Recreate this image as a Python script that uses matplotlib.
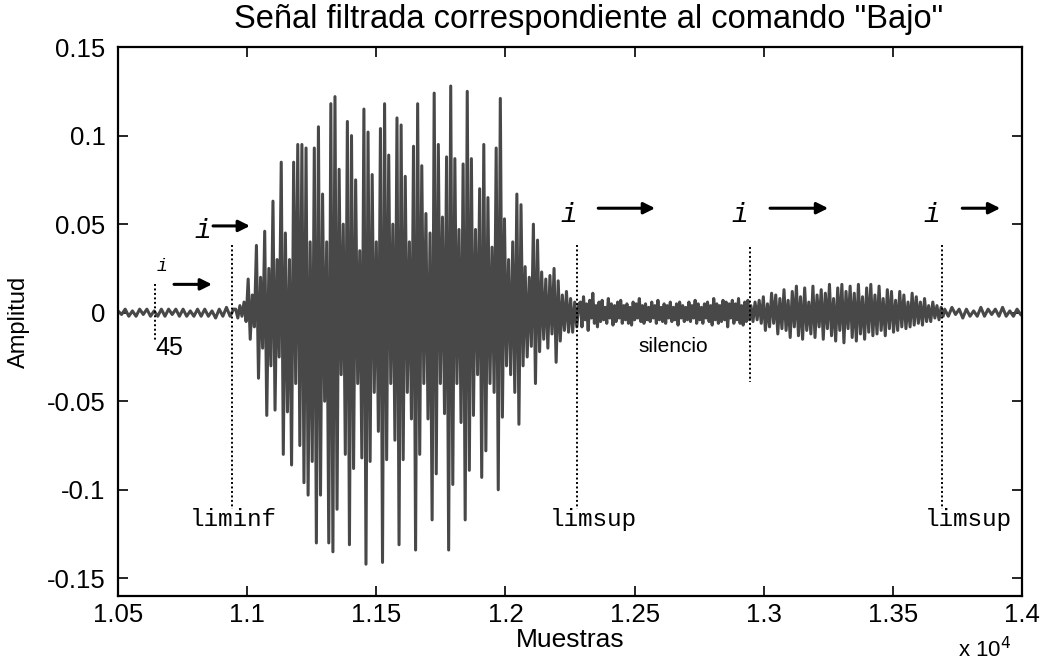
import numpy as np
import matplotlib
matplotlib.use("Agg")
import matplotlib.pyplot as plt

# Señal filtrada del comando "Bajo": tramos de extremos leídos a paso fijo de muestras
pre_inicio, pre_paso = 10500, 14
pre_vals = [0.001, -0.001, 0.002, -0.002, 0.001, -0.002, 0.002, -0.001, 0.002, -0.002,
            0.001, -0.002, 0.002, -0.002, 0.002, -0.001, 0.002, -0.002, 0.002, -0.002,
            0.001, -0.002, 0.002, -0.002, 0.002, -0.002, 0.001, -0.003, 0.002, -0.002,
            0.003, -0.002, 0.002]

voz_inicio, voz_paso = 10956, 8
voz_vals = [0.002, -0.003, 0.004, -0.002, 0.006, -0.005, 0.019, -0.015, 0.010, -0.008,
            0.038, -0.037, 0.020, -0.020, 0.046, -0.058, 0.025, -0.030, 0.063, -0.055,
            0.030, -0.025, 0.085, -0.080, 0.045, -0.056, 0.030, -0.086, 0.085, -0.040,
            0.095, -0.075, 0.095, -0.096, 0.093, -0.103, 0.040, -0.084, 0.093, -0.130,
            0.105, -0.103, 0.067, -0.050, 0.040, -0.130, 0.118, -0.135, 0.122, -0.111,
            0.081, -0.035, 0.050, -0.080, 0.108, -0.131, 0.100, -0.088, 0.075, -0.040,
            0.035, -0.082, 0.115, -0.142, 0.102, -0.084, 0.078, -0.045, 0.040, -0.067,
            0.104, -0.141, 0.118, -0.083, 0.089, -0.040, 0.050, -0.072, 0.110, -0.131,
            0.106, -0.083, 0.077, -0.045, 0.040, -0.060, 0.094, -0.134, 0.118, -0.080,
            0.083, -0.040, 0.056, -0.060, 0.045, -0.117, 0.124, -0.091, 0.095, -0.040,
            0.054, -0.057, 0.088, -0.134, 0.128, -0.097, 0.087, -0.040, 0.047, -0.062,
            0.084, -0.117, 0.125, -0.089, 0.087, -0.058, 0.047, -0.035, 0.070, -0.093,
            0.095, -0.078, 0.065, -0.040, 0.037, -0.045, 0.093, -0.100, 0.121, -0.059,
            0.053, -0.030, 0.030, -0.035, 0.040, -0.045, 0.067, -0.063, 0.061, -0.030,
            0.026, -0.025, 0.020, -0.019, 0.050, -0.040, 0.041, -0.022, 0.023, -0.015,
            0.019, -0.020, 0.021, -0.012, 0.025, -0.028, 0.018, -0.016, 0.010, -0.010,
            0.012, -0.011, 0.008, -0.011, 0.006, -0.008, 0.005]

sil_inicio, sil_paso = 12290, 6
sil_vals = [0.006, -0.008, 0.009, -0.004, 0.005, -0.010, 0.007, -0.003, 0.011, -0.006,
            0.004, -0.008, 0.006, -0.005, 0.007, -0.004, 0.003, -0.006, 0.008, -0.003,
            0.005, -0.007, 0.004, -0.005, 0.006, -0.003, 0.007, -0.006, 0.004, -0.004,
            0.005, -0.006, 0.003, -0.007, 0.006, -0.004, 0.005, -0.003, 0.008, -0.005,
            0.004, -0.006, 0.005, -0.004, 0.003, -0.005, 0.006, -0.003, 0.004, -0.006,
            0.007, -0.004, 0.003, -0.005, 0.005, -0.006, 0.004, -0.003, 0.006, -0.005,
            0.003, -0.004, 0.005, -0.007, 0.006, -0.003, 0.004, -0.005, 0.003, -0.004,
            0.006, -0.005, 0.004, -0.003, 0.007, -0.006, 0.005, -0.004, 0.003, -0.006,
            0.005, -0.003, 0.006, -0.005, 0.004, -0.007, 0.008, -0.004, 0.005, -0.006,
            0.004, -0.005, 0.007, -0.004, 0.006, -0.008, 0.005, -0.003, 0.007, -0.006,
            0.005, -0.004, 0.008, -0.006, 0.004, -0.007, 0.006, -0.005, 0.007, -0.004]

sil2_inicio, sil2_paso = 12950, 8
sil2_vals = [0.004, -0.005, 0.006, -0.004, 0.007, -0.006,
             0.009, -0.010, 0.005, -0.008, 0.011, -0.006, 0.010, -0.012, 0.008, -0.009,
             0.013, -0.010, 0.007, -0.014, 0.012, -0.008, 0.015, -0.013, 0.009, -0.015,
             0.014, -0.010, 0.006, -0.012, 0.015, -0.014, 0.010, -0.008, 0.013, -0.015,
             0.011, -0.009, 0.016, -0.013, 0.008,
             -0.016, 0.014, -0.010, 0.016, -0.017, 0.012, -0.009, 0.015, -0.014, 0.011,
             -0.016, 0.016, -0.012, 0.009, -0.015, 0.014, -0.011, 0.016, -0.013, 0.010,
             -0.012, 0.015, -0.010, 0.008, -0.013, 0.013, -0.009, 0.012, -0.011, 0.007,
             -0.010, 0.012, -0.008, 0.010, -0.009, 0.006, -0.008, 0.011, -0.007, 0.009,
             -0.006, 0.006, -0.007, 0.008, -0.005, 0.004, -0.005, 0.006, -0.003, 0.004,
             -0.004, 0.003, -0.002]

fin_inicio, fin_paso = 13700, 14
fin_vals = [0.002, -0.002, 0.003, -0.001, 0.002, -0.003, 0.002, -0.002, 0.001, -0.002,
            0.003, -0.002, 0.002, -0.001, 0.002, -0.002, 0.003, -0.002, 0.001, -0.002,
            0.002, -0.001]

tramos = [(pre_inicio, pre_paso, pre_vals), (voz_inicio, voz_paso, voz_vals),
          (sil_inicio, sil_paso, sil_vals), (sil2_inicio, sil2_paso, sil2_vals),
          (fin_inicio, fin_paso, fin_vals)]

n = np.concatenate([ini + paso * np.arange(len(v)) for ini, paso, v in tramos])
x = np.concatenate([np.asarray(v) for _, _, v in tramos])

fig = plt.figure(figsize=(10.42, 6.63), dpi=100)
ax = fig.add_axes([0.1132, 0.101, 0.8678, 0.828])

ax.plot(n, x, color="#484848", linewidth=2.2)

ax.set_xlim(10500, 14000)
ax.set_ylim(-0.16, 0.15)
ax.set_xticks(np.arange(10500, 14001, 500))
ax.set_xticklabels(["1.05", "1.1", "1.15", "1.2", "1.25", "1.3", "1.35", "1.4"])
ax.set_yticks([-0.15, -0.1, -0.05, 0, 0.05, 0.1, 0.15])
ax.set_yticklabels(["-0.15", "-0.1", "-0.05", "0", "0.05", "0.1", "0.15"])

for s in ax.spines.values():
    s.set_linewidth(1.6)
ax.tick_params(direction="in", length=7, width=1.2, top=True, right=True,
               labelsize=18.5, pad=9)
ax.tick_params(axis="x", pad=5)
for lab in ax.get_xticklabels() + ax.get_yticklabels():
    lab.set_family("Liberation Sans")

ax.set_title('Señal filtrada correspondiente al comando "Bajo"',
             fontsize=23.5, family="Liberation Sans", pad=14, x=0.521)
ax.set_xlabel("Muestras", fontsize=19, family="Liberation Sans", labelpad=1)
ax.set_ylabel("Amplitud", fontsize=17, family="Liberation Sans", labelpad=12)
fig.text(0.919, 0.008, r"x 10$^{4}$", fontsize=16, family="Liberation Sans")

# límites de segmento
marcas = [(10643, 0.016, -0.016), (10940, 0.038, -0.111), (12278, 0.038, -0.111),
          (12947, 0.037, -0.039), (13690, 0.038, -0.111)]
for xm, y0, y1 in marcas:
    ax.plot([xm, xm], [y0, y1], color="black", linestyle=(0, (1, 1.3)), linewidth=1.4)

mono = "Liberation Mono"
ax.text(10643, -0.020, "45", fontsize=18, family="Liberation Sans", va="center", ha="left")
ax.text(12513, -0.019, "silencio", fontsize=15, family="Liberation Sans", va="center", ha="left")
for xl, txt in [(10945, "liminf"), (12339, "limsup"), (13791, "limsup")]:
    ax.text(xl, -0.117, txt, fontsize=17.5, family=mono, ha="center", va="center")

ax.text(10670, 0.026, "i", fontsize=13, family=mono, style="italic", ha="center", va="center")
for xi, yi in [(10829, 0.046), (12246, 0.055), (12908, 0.055), (13652, 0.055)]:
    ax.text(xi, yi, "i", fontsize=20, family=mono, style="italic", ha="center", va="center")

flechas = [(10717, 10864, 0.016), (10868, 11011, 0.049), (12359, 12579, 0.059),
           (13024, 13249, 0.059), (13768, 13915, 0.059)]
for xa, xb, ya in flechas:
    ax.annotate("", xy=(xb, ya), xytext=(xa, ya),
                arrowprops=dict(arrowstyle="-|>", color="black", lw=2.2,
                                mutation_scale=17, shrinkA=0, shrinkB=0))

fig.savefig("out.png", dpi=100)
